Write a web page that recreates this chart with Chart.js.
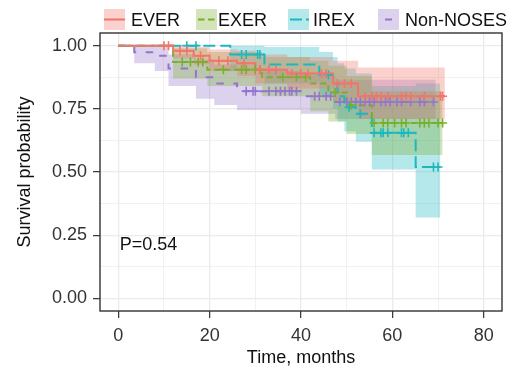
<!DOCTYPE html>
<html>
<head>
<meta charset="utf-8">
<script src="https://cdn.jsdelivr.net/npm/chart.js@4.4.0/dist/chart.umd.min.js"></script>
<style>
html, body { margin:0; padding:0; background:#fff; }
#wrap { position:relative; width:517px; height:369px; font-family:"Liberation Sans", Arial, sans-serif; }
#km { position:absolute; left:0; top:0; }
.key { position:absolute; top:9px; width:21px; height:21px; }
.lab { position:absolute; top:8px; font-size:18px; line-height:24px; color:#111; white-space:nowrap; }
</style>
</head>
<body>
<div id="wrap">
  <canvas id="km" width="517" height="369"></canvas>
  <div id="legend"></div>
</div>
<script>
// groups
var groupNames = ['EVER', 'EXER', 'IREX', 'Non-NOSES'];

// EVER
var everTime   = [0, 12, 16.5, 20, 26, 30, 37, 47, 52.5, 71.5];
var everSurv   = [1, 0.98, 0.96, 0.94, 0.93, 0.905, 0.89, 0.85, 0.80, 0.80];
var everUpper  = [1, 1, 0.995, 0.985, 0.98, 0.965, 0.955, 0.94, 0.913, 0.913];
var everLower  = [1, 0.95, 0.925, 0.90, 0.88, 0.85, 0.83, 0.78, 0.71, 0.71];
var everCensor = [10, 11, 13.5, 15, 18, 22, 24, 27.5, 31, 33, 34.5, 38, 40, 41.5, 44.5, 45.5, 48, 49.5, 51, 54, 55.5, 56.5, 57.5, 59, 62, 63, 64, 67, 70.5, 71];

// EXER
var exerTime   = [0, 12, 19.5, 31.5, 42, 46, 50, 55.5, 71];
var exerSurv   = [1, 0.935, 0.905, 0.875, 0.85, 0.815, 0.764, 0.694, 0.694];
var exerUpper  = [1, 0.99, 0.975, 0.955, 0.94, 0.92, 0.88, 0.82, 0.82];
var exerLower  = [1, 0.87, 0.84, 0.80, 0.74, 0.70, 0.65, 0.567, 0.567];
var exerCensor = [14, 15.8, 17.5, 18.5, 23, 27, 28, 30, 31, 36, 39, 41, 47.5, 51, 56, 58, 59, 60.5, 62, 63, 66, 67, 68, 70, 71];

// IREX
var irexTime   = [0, 24.5, 32, 44, 47, 48, 49.5, 52, 55.5, 65.1, 70.5];
var irexSurv   = [1, 0.965, 0.925, 0.885, 0.85, 0.80, 0.756, 0.73, 0.655, 0.52, 0.52];
var irexUpper  = [1, 1, 0.995, 0.975, 0.955, 0.93, 0.91, 0.89, 0.84, 0.85, 0.85];
var irexLower  = [1, 0.90, 0.85, 0.80, 0.75, 0.70, 0.66, 0.62, 0.51, 0.32, 0.32];
var irexCensor = [15, 17, 27, 28, 30.5, 31, 46, 50.5, 53, 56, 57.5, 58, 59, 62, 62.5, 63.5, 69, 70];

// Non-NOSES
var nonTime   = [0, 3.5, 8, 11, 17, 21, 26, 40, 47.5, 69.5];
var nonSurv   = [1, 0.974, 0.96, 0.91, 0.875, 0.85, 0.82, 0.80, 0.777, 0.777];
var nonUpper  = [1, 1, 0.995, 0.965, 0.945, 0.925, 0.90, 0.885, 0.865, 0.865];
var nonLower  = [1, 0.93, 0.90, 0.84, 0.79, 0.765, 0.745, 0.73, 0.71, 0.71];
var nonCensor = [28, 29.5, 30, 33, 34.5, 35.5, 36.5, 37.5, 38, 39, 43, 44, 45.5, 46.5, 48.5, 50, 51, 52, 53, 54, 55, 56, 57.5, 58.5, 59.5, 61, 62, 64, 66, 67, 69];

// axes
var xTicks = [0, 10, 20, 30, 40, 50, 60, 70, 80];
var yTicks = [0, 0.125, 0.25, 0.375, 0.5, 0.625, 0.75, 0.875, 1];
var pLabel = 'P=0.54';

var colors = ['#F2746B', '#7AAE2E', '#1CB8BF', '#9575CC'];
var bands  = ['rgba(242,116,107,0.33)', 'rgba(122,174,46,0.33)', 'rgba(28,184,191,0.33)', 'rgba(149,117,204,0.33)'];
var dashes = [[], [6, 4], [12, 5], [7.5, 9.5]];
var FONT = '"Liberation Sans", Arial, sans-serif';

function pts(time, vals) {
  return time.map(function(t, i) { return {x: t, y: vals[i]}; });
}
function survAt(time, surv, t) {
  var s = surv[0];
  for (var i = 0; i < time.length; i++) if (time[i] <= t) s = surv[i];
  return s;
}

var groups = [
  [everTime, everSurv, everUpper, everLower, everCensor],
  [exerTime, exerSurv, exerUpper, exerLower, exerCensor],
  [irexTime, irexSurv, irexUpper, irexLower, irexCensor],
  [nonTime, nonSurv, nonUpper, nonLower, nonCensor]
];

var datasets = [];
groups.forEach(function(g, k) {
  var time = g[0];
  datasets.push({ label: groupNames[k] + ' upper', data: pts(time, g[2]), stepped: true, fill: '+1',
    backgroundColor: bands[k], borderColor: 'transparent', borderWidth: 0, pointRadius: 0, order: 3 });
  datasets.push({ label: groupNames[k] + ' lower', data: pts(time, g[3]), stepped: true, fill: false,
    borderColor: 'transparent', borderWidth: 0, pointRadius: 0, order: 3 });
});
groups.forEach(function(g, k) {
  var time = g[0], surv = g[1];
  datasets.push({ label: groupNames[k], data: pts(time, surv), stepped: true, fill: false,
    borderColor: colors[k], borderWidth: 2, borderDash: dashes[k], pointRadius: 0, order: 2 });
  datasets.push({ label: groupNames[k] + ' censor', showLine: false,
    data: g[4].map(function(t) { return {x: t, y: survAt(time, surv, t)}; }),
    pointStyle: 'cross', pointRadius: 4.5, pointBorderWidth: 1.6, pointBorderColor: colors[k],
    pointBackgroundColor: colors[k], order: 1 });
});

function isMajorX(v) { return v % 20 === 0; }
function isMajorY(v) { return Math.abs(v * 4 - Math.round(v * 4)) < 1e-9; }

var framePlugin = {
  id: 'frame',
  afterDatasetsDraw: function(chart) {
    var a = chart.chartArea, c = chart.ctx;
    var xs = chart.scales.x, ys = chart.scales.y;
    c.save();
    c.font = '18px ' + FONT;
    c.fillStyle = '#111';
    c.textAlign = 'left';
    c.textBaseline = 'middle';
    c.fillText(pLabel, xs.getPixelForValue(0.3), ys.getPixelForValue(0.213));
    c.strokeStyle = '#333';
    c.lineWidth = 1.4;
    c.strokeRect(a.left, a.top, a.right - a.left, a.bottom - a.top);
    c.restore();
  }
};

new Chart(document.getElementById('km'), {
  type: 'line',
  data: { datasets: datasets },
  options: {
    responsive: false,
    animation: false,
    layout: { padding: { top: 33, right: 15, left: 0, bottom: 0 } },
    plugins: { legend: { display: false }, tooltip: { enabled: false } },
    scales: {
      x: {
        type: 'linear', min: -4, max: 84,
        afterBuildTicks: function(s) { s.ticks = xTicks.map(function(v) { return {value: v}; }); },
        afterFit: function(s) { s.height = 58; },
        ticks: { autoSkip: false, maxRotation: 0, padding: 7, color: '#333', font: { size: 18, family: FONT },
          callback: function(v) { return isMajorX(v) ? String(v) : ''; } },
        grid: {
          color: '#EBEBEB', tickLength: 7,
          lineWidth: function(ctx) { return ctx.tick && isMajorX(ctx.tick.value) ? 1.3 : 0.7; },
          tickColor: function(ctx) { return ctx.tick && isMajorX(ctx.tick.value) ? '#333' : 'rgba(0,0,0,0)'; },
          tickWidth: 1.2
        },
        border: { display: false },
        title: { display: true, text: 'Time, months', color: '#111', font: { size: 18, family: FONT }, padding: { top: 0, bottom: 0 } }
      },
      y: {
        min: -0.05, max: 1.05,
        afterBuildTicks: function(s) { s.ticks = yTicks.map(function(v) { return {value: v}; }); },
        afterFit: function(s) { s.width = 100; },
        ticks: { autoSkip: false, padding: 6, color: '#333', font: { size: 18, family: FONT },
          callback: function(v) { return isMajorY(v) ? v.toFixed(2) : ''; } },
        grid: {
          color: '#EBEBEB', tickLength: 7,
          lineWidth: function(ctx) { return ctx.tick && isMajorY(ctx.tick.value) ? 1.3 : 0.7; },
          tickColor: function(ctx) { return ctx.tick && isMajorY(ctx.tick.value) ? '#333' : 'rgba(0,0,0,0)'; },
          tickWidth: 1.2
        },
        border: { display: false },
        title: { display: true, text: 'Survival probability', color: '#111', font: { size: 18, family: FONT }, padding: { top: 14, bottom: 0 } }
      }
    }
  },
  plugins: [framePlugin]
});

// legend
var keyLeft = [104, 196, 288, 378];
var labLeft = [131, 218, 313, 405];
var keyLines = [
  '<line x1="0" y1="10.5" x2="21" y2="10.5"/>',
  '<line x1="2" y1="10.5" x2="19" y2="10.5" stroke-dasharray="6.5,3.5"/>',
  '<line x1="2" y1="10.5" x2="21" y2="10.5" stroke-dasharray="12,4"/>',
  '<line x1="7" y1="10.5" x2="14" y2="10.5"/>'
];
var html = '';
groupNames.forEach(function(name, k) {
  html += '<svg class="key" style="left:' + keyLeft[k] + 'px" width="21" height="21">' +
    '<rect x="0" y="0" width="21" height="21" fill="' + bands[k] + '"/>' +
    '<g stroke="' + colors[k] + '" stroke-width="2">' + keyLines[k] + '</g></svg>' +
    '<div class="lab" style="left:' + labLeft[k] + 'px">' + name + '</div>';
});
document.getElementById('legend').innerHTML = html;
</script>
</body>
</html>
